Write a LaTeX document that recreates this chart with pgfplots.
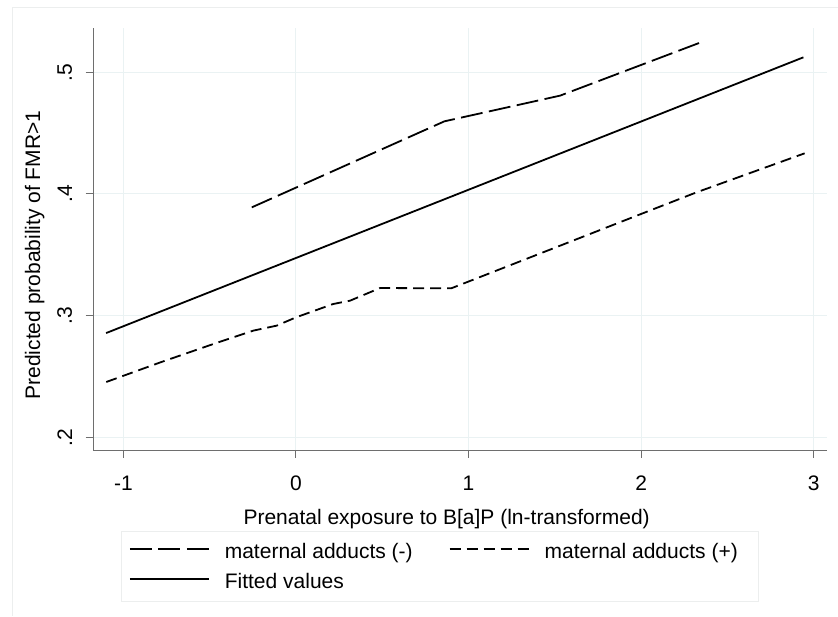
\documentclass[border=0pt]{standalone}
\usepackage{fontspec}
\setmainfont{Liberation Sans}
\usepackage{pgfplots}
\pgfplotsset{compat=1.18}
\definecolor{gridc}{RGB}{234,242,243}
\definecolor{axc}{RGB}{110,110,110}
\definecolor{framec}{RGB}{236,238,238}
\begin{document}
\begin{tikzpicture}[font=\fontsize{10.5pt}{12.6pt}\selectfont]
\useasboundingbox (0,0) rectangle (419pt,308pt);
\draw[framec, line width=0.4pt] (6pt,0pt) -- (6pt,304.5pt) -- (419pt,304.5pt);
\begin{axis}[
  at={(46.5pt,83pt)}, anchor=south west,
  scale only axis, width=366.85pt, height=211pt,
  xmin=-1.176, xmax=3.075, ymin=0.1896, ymax=0.5364,
  axis lines*=left,
  axis line style={axc, line width=0.5pt},
  every tick/.style={axc, line width=0.5pt},
  tick align=outside, major tick length=3.75pt,
  xtick={-1,0,1,2,3}, xticklabels={-1,0,1,2,3},
  ytick={0.2,0.3,0.4,0.5}, yticklabels={.2,.3,.4,.5},
  grid=major, major grid style={gridc, line width=0.5pt},
  xticklabel style={anchor=north, inner sep=0pt, yshift=-9pt},
  yticklabel style={rotate=90, anchor=south, inner sep=0pt},
  yticklabel shift=6.5pt,
  /pgf/number format/assume math mode=true,
  xlabel={Prenatal exposure to B[a]P (ln-transformed)},
  ylabel={Predicted probability of FMR>1},
  xlabel style={at={(axis description cs:0.482,-0.1754)}, anchor=base, inner sep=0pt},
  ylabel style={at={(axis description cs:-0.0722,0.462)}, anchor=base, inner sep=0pt},
  legend columns=2, legend cell align=left,
  legend style={at={(axis description cs:0.0382,-0.192)}, anchor=north west,
    draw=framec, fill=white, inner xsep=4pt, inner ysep=5pt, outer sep=0pt, row sep=5pt,
    nodes={inner sep=0pt, text height=8.5pt, text depth=1.5pt},
    /tikz/every odd column/.append style={column sep=7.5pt}},
  legend image code/.code={\draw[#1] (0pt,1.2pt) -- (39.5pt,1.2pt);},
]
\addplot[black, line width=0.9pt, dash pattern=on 11pt off 3.25pt] coordinates {(-0.256,0.389) (0.86,0.4597) (1.53,0.4808) (2.34,0.5243)};
\addlegendentry{\makebox[112pt][l]{maternal adducts (-)}}
\addplot[black, line width=0.9pt, dash pattern=on 5.5pt off 3pt] coordinates {(-1.099,0.2455) (-0.786,0.2616) (-0.479,0.2767) (-0.247,0.2877) (-0.112,0.2918) (0,0.2986) (0.216,0.3096) (0.313,0.3123) (0.487,0.3227) (0.90,0.3225) (2.0,0.3836) (2.32,0.4013) (2.947,0.4334)};
\addlegendentry{\makebox[103pt][l]{maternal adducts (+)}}
\addplot[black, line width=0.9pt] coordinates {(-1.10,0.2857) (2.94,0.5123)};
\addlegendentry{Fitted values}
\end{axis}
\end{tikzpicture}
\end{document}
